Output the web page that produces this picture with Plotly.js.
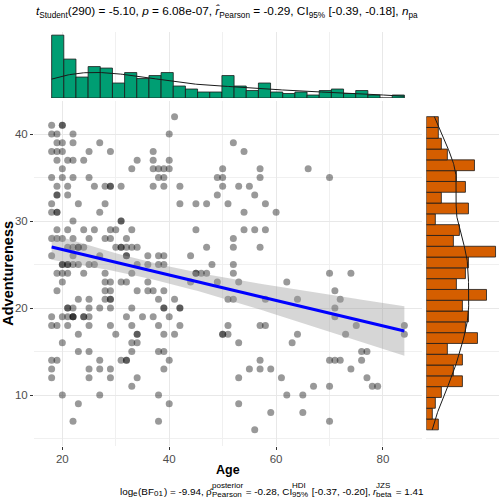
<!DOCTYPE html>
<html><head><meta charset="utf-8">
<script src="https://cdn.plot.ly/plotly-3.0.1.min.js"></script>
<style>html,body{margin:0;padding:0;background:#fff}#plot{width:499px;height:500px}</style>
</head><body><div id="plot"></div>
<script>
// Adventureness score levels and the ages of the participants at each level
const scoreLevels = [42,41,40,39,38,37,36,35,34,33,32,31,30,29,28,27,26,25,24,23,22,21,20,19,18,17,16,15,14,13,12,11,10,9,8,7,6];
const agesAtScore = [
  [41],
  [18,20,20],
  [18,19,22,40],
  [19,20,22,27,52],
  [18,19,20,25,29,37,54],
  [19,21,22,24,34,37,40],
  [20,33,37,38,39,40,50,57,66],
  [18,20,22,25,38,39,49,50,57,70],
  [19,21,26,28,29,29,31,37,39,42,50,53,55],
  [19,19,21,49,56],
  [18,23,28,42,45,47,51,58],
  [18,19,19,27,54,60],
  [22,31,31],
  [19,21,24,26,29,30,33,45,54,56,58],
  [18,19,20,22,25,28,29,32,52],
  [21,22,23,23,24,30,31,31,32,33,34,47,52,57],
  [18,22,27,32,32,36,38,39,44],
  [20,20,21,21,22,23,25,26,34,36,38,39,48,52],
  [19,20,21,24,28,33,45,45,46,47,52,70,74],
  [20,28,29,31,32,36,44,49,53,62],
  [19,28,29,34,36,37,39,71],
  [23,25,28,29,29,38,41,51,52,58,64,72],
  [21,21,22,25,27,29,33,39,39,42,42,71],
  [18,20,21,22,22,22,24,24,25,32,35,37,40,71],
  [18,19,21,25,29,33,38,42,51,57,58,75,84],
  [23,30,34,34,39,41,50,50,51,64,73,84],
  [20,33,34,53,63],
  [23,25,33,38,39,76,77],
  [18,19,27,31,32,32,40,57,70,71,72,76],
  [18,25,27,29,39,55,57,59,74],
  [18,25,29,34,53,61,77],
  [33,67,70,78,79],
  [20,27,38,62,65],
  [23,40,53],
  [59,65],
  [22,38,70],
  [56]
];
// Statistics text shown in the chart
const titleText = "<i>t</i><sub>Student</sub>(290) = -5.10, <i>p</i> = 6.08e-07, <i>r\u0302</i><sub>Pearson</sub> = -0.29, CI<sub>95%</sub> [-0.39, -0.18], <i>n</i><sub>pa</sub>";
const captionSegments = [
  {t:'log'}, {sub:'e'}, {t:'(BF'}, {sub:'01'}, {t:') = -9.94, '}, {t:'\u03c1\u0302'},
  {sup:'posterior', sub:'Pearson', stack:true}, {t:' = -0.28, CI'}, {sup:'HDI', sub:'95%', stack:true},
  {t:' [-0.37, -0.20], '}, {t:'r', it:true}, {sup:'JZS', sub:'beta', stack:true}, {t:' = 1.41'}
];
const xLabel = 'Age', yLabel = 'Adventureness';

// ---- build data ----
const X = [], Y = [];
scoreLevels.forEach((s, i) => agesAtScore[i].forEach(a => { X.push(a); Y.push(s); }));
const n = X.length;
const mean = v => v.reduce((p, c) => p + c, 0) / v.length;
const mnX = Math.min(...X), mxX = Math.max(...X), mnY = Math.min(...Y), mxY = Math.max(...Y);

// linear fit with 95% CI
const mX = mean(X), mY = mean(Y);
let sxx = 0, sxy = 0;
for (let i = 0; i < n; i++) { sxx += (X[i]-mX)**2; sxy += (X[i]-mX)*(Y[i]-mY); }
const slope = sxy / sxx, icpt = mY - slope * mX;
let sse = 0; for (let i = 0; i < n; i++) sse += (Y[i] - icpt - slope*X[i])**2;
const sRes = Math.sqrt(sse / (n - 2)), tq = 1.968;
const fx = [], fy = [], lo = [], hi = [];
for (let i = 0; i <= 80; i++) {
  const xv = mnX + (mxX - mnX) * i / 80, yv = icpt + slope * xv;
  const se = sRes * Math.sqrt(1/n + (xv - mX)**2 / sxx);
  fx.push(xv); fy.push(yv); lo.push(yv - tq*se); hi.push(yv + tq*se);
}

// histograms (29 bins over data range)
function binCounts(v, nb) {
  const a = Math.min(...v), b = Math.max(...v), w = (b - a) / nb;
  const c = new Array(nb).fill(0), ctr = [];
  v.forEach(val => { c[Math.min(nb-1, Math.floor((val - a) / w))]++; });
  for (let i = 0; i < nb; i++) ctr.push(a + w*(i + 0.5));
  return {c, ctr, w};
}
const hx = binCounts(X, 29), hy = binCounts(Y, 29);

// gaussian KDE (bw.nrd0 * adjust), scaled to counts
function kde(v, w, adjust) {
  const s = [...v].sort((p, q) => p - q), m = mean(v);
  const sd = Math.sqrt(v.reduce((p, c) => p + (c-m)**2, 0) / (v.length - 1));
  const q = p => { const h = (s.length-1)*p, l = Math.floor(h); return s[l] + (h-l)*(s[Math.min(l+1, s.length-1)] - s[l]); };
  const bw = adjust * 0.9 * Math.min(sd, (q(0.75) - q(0.25)) / 1.34) * Math.pow(v.length, -0.2);
  const g = [], d = [], a = s[0], b = s[s.length-1];
  for (let i = 0; i < 256; i++) {
    const xv = a + (b - a) * i / 255; let sum = 0;
    for (const val of v) sum += Math.exp(-0.5 * ((xv - val) / bw)**2);
    g.push(xv); d.push(sum / (v.length * bw * Math.sqrt(2*Math.PI)) * v.length * w);
  }
  return {g, d};
}
const kx = kde(X, hx.w, 1.45), ky = kde(Y, hy.w, 1.1);

const traces = [
  {type:'bar', x:hx.ctr, y:hx.c, width:hx.w, xaxis:'x', yaxis:'y2', marker:{color:'#009E73', line:{color:'#1a1a1a', width:0.8}}, hoverinfo:'skip'},
  {type:'scatter', mode:'lines', x:kx.g, y:kx.d, xaxis:'x', yaxis:'y2', line:{color:'#1a1a1a', width:1}, hoverinfo:'skip'},
  {type:'bar', orientation:'h', y:hy.ctr, x:hy.c, width:hy.w, xaxis:'x2', yaxis:'y', marker:{color:'#D55E00', line:{color:'#1a1a1a', width:0.8}}, hoverinfo:'skip'},
  {type:'scatter', mode:'lines', y:ky.g, x:ky.d, xaxis:'x2', yaxis:'y', line:{color:'#1a1a1a', width:1}, hoverinfo:'skip'},
  {type:'scatter', mode:'markers', x:X, y:Y, xaxis:'x', yaxis:'y', marker:{color:'#000', opacity:0.4, size:7, line:{width:0}}},
  {type:'scatter', mode:'lines', x:fx.concat([...fx].reverse()), y:hi.concat([...lo].reverse()), fill:'toself', fillcolor:'rgba(153,153,153,0.4)', line:{width:0}, xaxis:'x', yaxis:'y', hoverinfo:'skip'},
  {type:'scatter', mode:'lines', x:fx, y:fy, xaxis:'x', yaxis:'y', line:{color:'#0000FF', width:3}}
];

const W = 499, H = 500, FONT = 'Liberation Sans, Arial, sans-serif';
const panel = {l:34, r:422, t:101, b:445.5};
const xr = [mnX - 0.05*(mxX-mnX), mxX + 0.05*(mxX-mnX)];
const yr = [mnY - 0.05*(mxY-mnY), mxY + 0.05*(mxY-mnY)];
const axBase = {zeroline:false, showline:false, ticks:'outside', ticklen:3, tickwidth:1, tickcolor:'#333333',
  tickfont:{size:11.5, color:'#4d4d4d', family:FONT}, showgrid:true, gridcolor:'#e8e8e8', gridwidth:1, automargin:false};

const annotations = [
  {text:'<b>'+xLabel+'</b>', x:((panel.l+panel.r)/2)/W, y:1-470/H, xref:'paper', yref:'paper', xanchor:'center', yanchor:'middle', showarrow:false, font:{size:12.5, family:FONT, color:'#000'}},
  {text:'<b>'+yLabel+'</b>', x:8.5/W, y:1-((panel.t+panel.b)/2)/H, xref:'paper', yref:'paper', xanchor:'center', yanchor:'middle', showarrow:false, textangle:-90, font:{size:14.5, family:FONT, color:'#000'}},
  {text:titleText, x:35/W, y:1-12/H, xref:'paper', yref:'paper', xanchor:'left', yanchor:'middle', align:'left', showarrow:false, borderpad:0, font:{size:11.8, family:FONT, color:'#000'}}
];

// caption built from measured segments (stacked super/subscripts)
const cv = document.createElement('canvas').getContext('2d');
const meas = (s, size, it) => { cv.font = (it ? 'italic ' : '') + size + 'px "Liberation Sans"'; return cv.measureText(s.replace(/ /g, '\u00a0')).width; };
const BIG = 9.9, SM = 8, capY = 1 - 491/H;
let widths = captionSegments.map(sg => sg.t !== undefined ? meas(sg.t, BIG, sg.it) : Math.max(sg.sup ? meas(sg.sup, SM) : 0, sg.sub ? meas(sg.sub, SM) : 0) + 0.5);
let cx = panel.r - widths.reduce((p, c) => p + c, 0);
captionSegments.forEach((sg, i) => {
  const base = {xref:'paper', yref:'paper', x:cx/W, y:capY, xanchor:'left', yanchor:'middle', align:'left', showarrow:false, borderpad:0};
  if (sg.t !== undefined) {
    annotations.push(Object.assign({}, base, {text:(sg.it ? '<i>' : '') + sg.t.replace(/ /g, '\u00a0') + (sg.it ? '</i>' : ''), font:{size:BIG, family:FONT, color:'#000'}}));
  } else {
    if (sg.sup) annotations.push(Object.assign({}, base, {text:sg.sup, yshift:5.5, font:{size:SM, family:FONT, color:'#000'}}));
    if (sg.sub) annotations.push(Object.assign({}, base, {text:sg.sub, yshift:sg.stack ? -3 : -2.3, font:{size:SM, family:FONT, color:'#000'}}));
  }
  cx += widths[i];
});

const layout = {
  width:W, height:H, margin:{l:0, r:0, t:0, b:0}, paper_bgcolor:'#fff', plot_bgcolor:'#fff', showlegend:false,
  font:{family:FONT, color:'#000'}, bargap:0, barmode:'overlay',
  xaxis:Object.assign({}, axBase, {domain:[panel.l/W, panel.r/W], range:xr, tick0:0, dtick:20, anchor:'y',
    minor:{dtick:10, tick0:0, showgrid:true, gridcolor:'#f0f0f0', ticks:''}}),
  yaxis:Object.assign({}, axBase, {domain:[1-panel.b/H, 1-panel.t/H], range:yr, tick0:0, dtick:10, anchor:'x',
    minor:{dtick:5, tick0:0, showgrid:true, gridcolor:'#f0f0f0', ticks:''}}),
  yaxis2:{domain:[1-98/H, 1-32/H], range:[0, Math.max(...hx.c)*1.05], anchor:'x', visible:false, showgrid:false, zeroline:false},
  xaxis2:{domain:[426.3/W, 1], range:[0, Math.max(...hy.c)*1.05], anchor:'y', visible:false, showgrid:false, zeroline:false},
  annotations
};
Plotly.newPlot('plot', traces, layout, {staticPlot:true, displayModeBar:false});
</script></body></html>
